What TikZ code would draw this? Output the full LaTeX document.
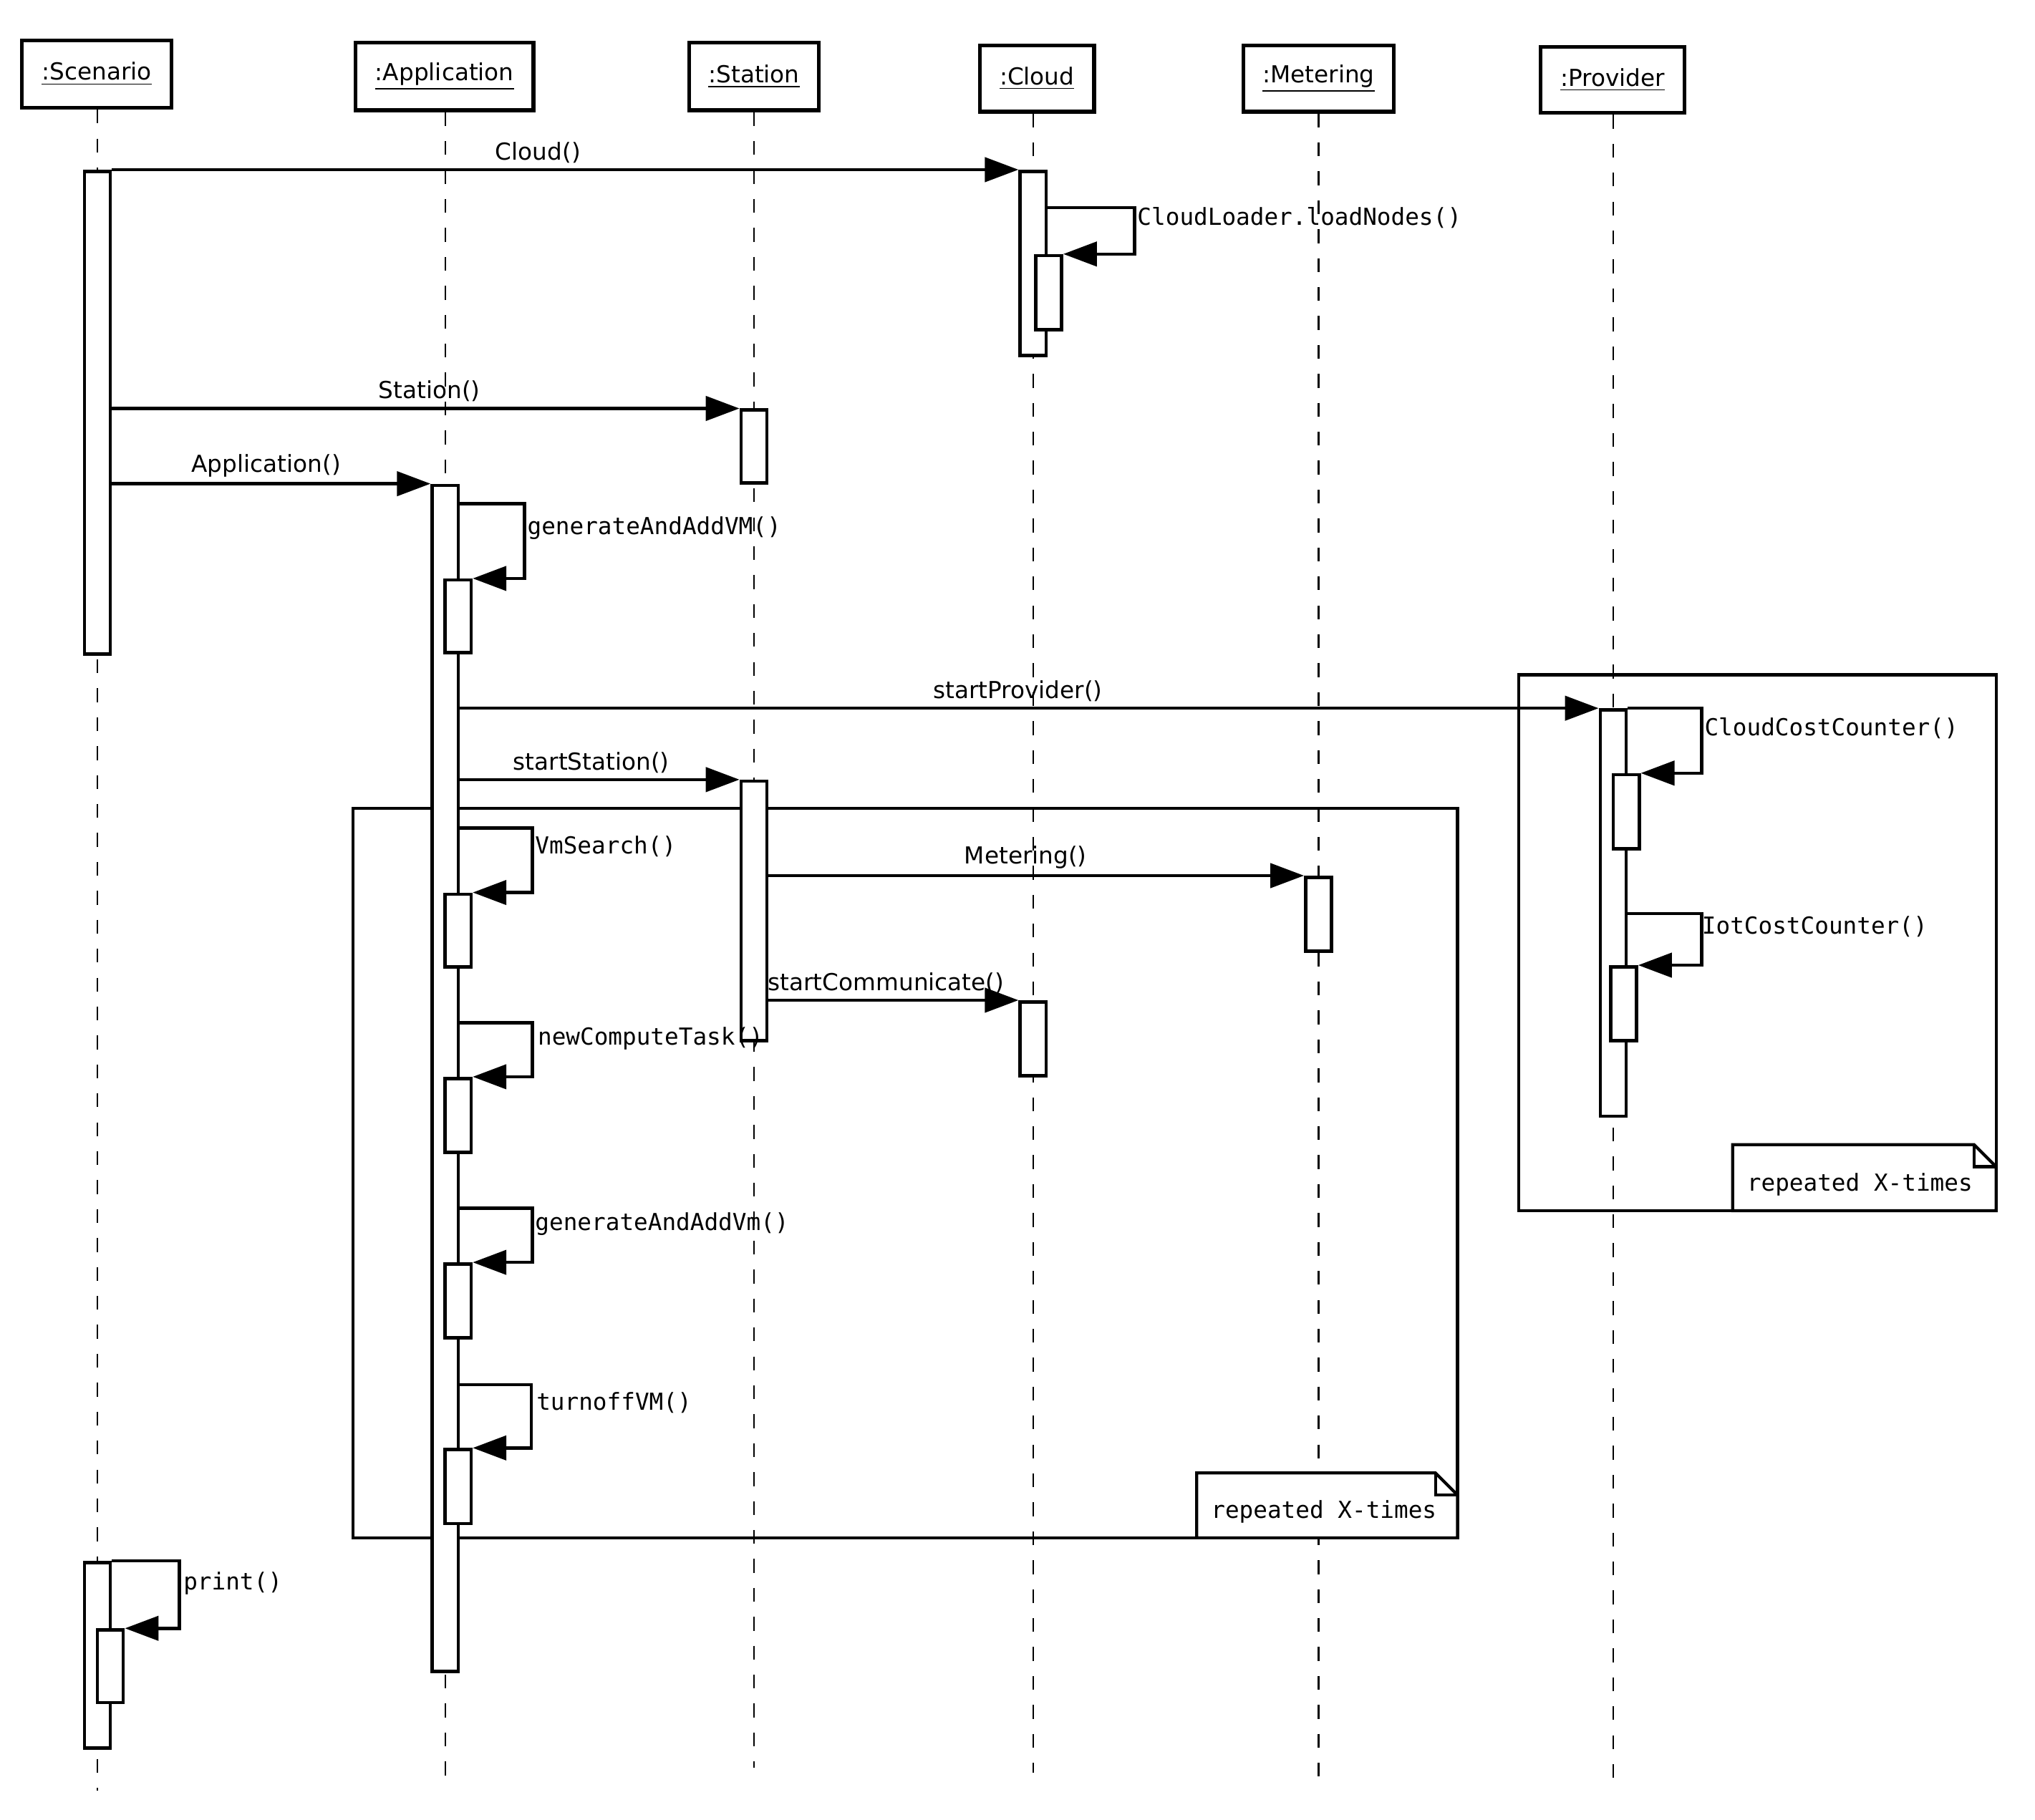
\documentclass[tikz,border=0pt]{standalone}
\usepackage{fontspec}
\setmainfont{DejaVu Sans}
\newfontfamily\monofont{DejaVu Sans Mono}
\usetikzlibrary{arrows.meta,fit}
\newcommand\pu{0.018125cm}
\begin{document}
\begin{tikzpicture}[x=0.018125cm,y=-0.018125cm,
 font=\fontsize{9.3}{11}\selectfont,
 head/.style={draw,line width=1.5pt,inner sep=0pt,fill=white},
 life/.style={line width=0.6pt,dash pattern=on 5.5pt off 6pt},
 act/.style={draw,line width=1.3pt,fill=white,inner sep=0pt},
 msg/.style={line width=1.3pt,-{Triangle[length=0.47cm,width=0.34cm]}},
 lbl/.style={inner sep=2pt},
 mlbl/.style={font=\fontsize{9.3}{11}\selectfont\monofont,anchor=west,inner sep=0pt},
 frame/.style={line width=1.2pt},
 note/.style={draw,line width=1.2pt,fill=white}]
\useasboundingbox (0,0) rectangle (1568,1402);

% headers
\node[head,minimum width=115*\pu,minimum height=52*\pu] (hS) at (74.5,57) {\raisebox{-1.5pt}{\underline{:Scenario}}};
\node[head,minimum width=137*\pu,minimum height=52*\pu] (hA) at (342.5,59) {\raisebox{-1.5pt}{\underline{:Application}}};
\node[head,minimum width=100*\pu,minimum height=52*\pu] (hT) at (581,59) {\raisebox{-1.5pt}{\underline{:Station}}};
\node[head,minimum width=88*\pu,minimum height=51*\pu] (hC) at (799,60.5) {\raisebox{-1.5pt}{\underline{:Cloud}}};
\node[head,minimum width=116*\pu,minimum height=51*\pu] (hM) at (1016,60.5) {\raisebox{-1.5pt}{\underline{:Metering}}};
\node[head,minimum width=111*\pu,minimum height=51*\pu] (hP) at (1242.5,61.5) {\raisebox{-1.5pt}{\underline{:Provider}}};

% lifeline ends
\coordinate (eS) at (75,1380);
\coordinate (eA) at (343,1368);
\coordinate (eT) at (581,1362);
\coordinate (eC) at (796,1366);
\coordinate (eM) at (1016,1375);
\coordinate (eP) at (1243,1375);
\draw[life] (hS.south -| eS) -- (eS);
\draw[life] (hA.south -| eA) -- (eA);
\draw[life] (hT.south -| eT) -- (eT);
\draw[life] (hC.south -| eC) -- (eC);
\draw[life] (hM.south -| eM) -- (eM);
\draw[life] (hP.south -| eP) -- (eP);

% frames
\draw[frame] (272,623) rectangle (1123,1185);
\draw[frame] (1170,520) rectangle (1538,933);

% activation boxes
\node[act,fit={(65,132)(85,504)}] (aS1) {};
\node[act,fit={(65,1204)(85,1347)}] (aS2) {};
\node[act,fit={(75,1256)(95,1312)}] (aS2n) {};
\node[act,fit={(333,374)(353,1288)}] (aA) {};
\node[act,fit={(343,447)(363,503)}] (aA1) {};
\node[act,fit={(343,689)(363,745)}] (aA2) {};
\node[act,fit={(343,831)(363,888)}] (aA3) {};
\node[act,fit={(343,974)(363,1031)}] (aA4) {};
\node[act,fit={(343,1117)(363,1174)}] (aA5) {};
\node[act,fit={(571,316)(591,372)}] (aT1) {};
\node[act,fit={(571,602)(591,802)}] (aT2) {};
\node[act,fit={(786,132)(806,274)}] (aC1) {};
\node[act,fit={(798,197)(818,254)}] (aC1n) {};
\node[act,fit={(786,772)(806,829)}] (aC2) {};
\node[act,fit={(1006,676)(1026,733)}] (aM) {};
\node[act,fit={(1233,547)(1253,860)}] (aP) {};
\node[act,fit={(1243,597)(1263,654)}] (aP1) {};
\node[act,fit={(1241,745)(1261,802)}] (aP2) {};

% messages
\draw[msg] (aS1.north east) -- (aC1.north west) node[lbl,pos=0.47,above] (l1) {Cloud()};
\draw[msg] (aS1.east |- aT1.north) -- (aT1.north west) node[lbl,pos=0.506,above] (l2) {Station()};
\draw[msg] (aS1.east |- aA.north) -- (aA.north west) node[lbl,pos=0.484,above] (l3) {Application()};
\draw[msg] (aA.east |- aP.north) -- (aP.north west) node[lbl,pos=0.49,above] (l4) {startProvider()};
\draw[msg] (aA.east |- aT2.north) -- (aT2.north west) node[lbl,pos=0.47,above] (l5) {startStation()};
\draw[msg] (aT2.east |- aM.north) -- (aM.north west) node[lbl,pos=0.48,above] (l6) {Metering()};
\draw[msg] (aT2.east |- aC2.north) -- (aC2.north west) node[lbl,pos=0.47,above] (l7) {startCommunicate()};

% self messages
\draw[msg] (aC1.east |- 0,160) -- ++(67,0) |- (aC1n.north east);
\draw[msg] (aA.east |- 0,388) -- ++(50,0) |- (aA1.north east);
\draw[msg] (aA.east |- 0,638) -- ++(56,0) |- (aA2.north east);
\draw[msg] (aA.east |- 0,788) -- ++(56,0) |- (aA3.north east);
\draw[msg] (aA.east |- 0,931) -- ++(56,0) |- (aA4.north east);
\draw[msg] (aA.east |- 0,1067) -- ++(55,0) |- (aA5.north east);
\draw[msg] (aP.north east) -- ++(57,0) |- (aP1.north east);
\draw[msg] (aP.east |- 0,704) -- ++(57,0) |- (aP2.north east);
\draw[msg] (aS2.north east) -- ++(52,0) |- (aS2n.north east);

% self message labels
\node[mlbl] (s1) at (876,168) {CloudLoader.loadNodes()};
\node[mlbl] (s2) at (406,407) {generateAndAddVM()};
\node[mlbl] (s3) at (412,652) {VmSearch()};
\node[mlbl] (s4) at (414,800) {newComputeTask()};
\node[mlbl] (s5) at (412,943) {generateAndAddVm()};
\node[mlbl] (s6) at (413,1081) {turnoffVM()};
\node[mlbl] (s7) at (1313,561) {CloudCostCounter()};
\node[mlbl] (s8) at (1311,714) {IotCostCounter()};
\node[mlbl] (s9) at (141,1220) {print()};

% notes
\draw[note] (922,1135) -- (1106,1135) -- (1123,1152) -- (1123,1185) -- (922,1185) -- cycle;
\draw[line width=1.2pt] (1106,1135) -- (1106,1152) -- (1123,1152);
\node[font=\fontsize{9.3}{11}\selectfont\monofont,inner sep=0pt] (n1) at (1020,1165) {repeated X-times};
\draw[note] (1335,882) -- (1521,882) -- (1538,899) -- (1538,933) -- (1335,933) -- cycle;
\draw[line width=1.2pt] (1521,882) -- (1521,899) -- (1538,899);
\node[font=\fontsize{9.3}{11}\selectfont\monofont,inner sep=0pt] (n2) at (1433,913) {repeated X-times};
\end{tikzpicture}
\end{document}
